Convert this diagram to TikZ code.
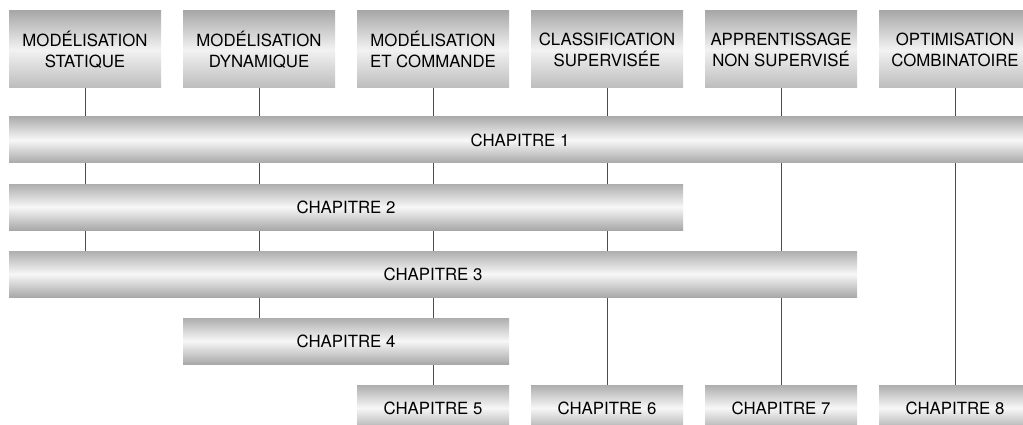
\documentclass[tikz,border=0pt]{standalone}
\usepackage{fontspec}
\setmainfont{TeX Gyre Heros}
\usepackage{tikz}
\usetikzlibrary{backgrounds}

\begin{document}
\begin{tikzpicture}[
    x=1pt, y=-1pt,
    every node/.style={inner sep=0pt, font=\fontsize{16.8}{21}\selectfont,
                       align=center},
    domainbox/.style={minimum width=152pt, minimum height=77pt,
                      top color=black!34, bottom color=black!26,
                      middle color=black!5},
    chapbar/.style={minimum height=46pt,
                    top color=black!32, bottom color=black!34,
                    middle color=black!3},
    link/.style={draw=black!70, line width=0.8pt}
  ]
  \useasboundingbox (0,0) rectangle (1023,425);

  % domaines
  \node[domainbox] (m1) at (85,49.5)  {MODÉLISATION\\STATIQUE};
  \node[domainbox] (m2) at (259,49.5) {MODÉLISATION\\DYNAMIQUE};
  \node[domainbox] (m3) at (433,49.5) {MODÉLISATION\\ET COMMANDE};
  \node[domainbox] (m4) at (607,49.5) {CLASSIFICATION\\SUPERVISÉE};
  \node[domainbox] (m5) at (781,49.5) {APPRENTISSAGE\\NON SUPERVISÉ};
  \node[domainbox] (m6) at (955,49.5) {OPTIMISATION\\COMBINATOIRE};

  % chapitres
  \node[chapbar, minimum width=1022pt] (c1) at (520,140) {CHAPITRE 1};
  \node[chapbar, minimum width=674pt]  (c2) at (346,207) {CHAPITRE 2};
  \node[chapbar, minimum width=848pt]  (c3) at (433,274) {CHAPITRE 3};
  \node[chapbar, minimum width=326pt]  (c4) at (346,341) {CHAPITRE 4};
  \node[chapbar, minimum width=152pt]  (c5) at (433,408) {CHAPITRE 5};
  \node[chapbar, minimum width=152pt]  (c6) at (607,408) {CHAPITRE 6};
  \node[chapbar, minimum width=152pt]  (c7) at (781,408) {CHAPITRE 7};
  \node[chapbar, minimum width=152pt]  (c8) at (955,408) {CHAPITRE 8};

  \begin{scope}[on background layer]
    \fill[white] (0,0) rectangle (1023,425);
    \draw[link] (m1.south) -- (m1.south |- c3.north);
    \draw[link] (m2.south) -- (m2.south |- c4.north);
    \draw[link] (m3.south) -- (m3.south |- c5.north);
    \draw[link] (m4.south) -- (m4.south |- c6.north);
    \draw[link] (m5.south) -- (m5.south |- c7.north);
    \draw[link] (m6.south) -- (m6.south |- c8.north);
  \end{scope}
\end{tikzpicture}
\end{document}
